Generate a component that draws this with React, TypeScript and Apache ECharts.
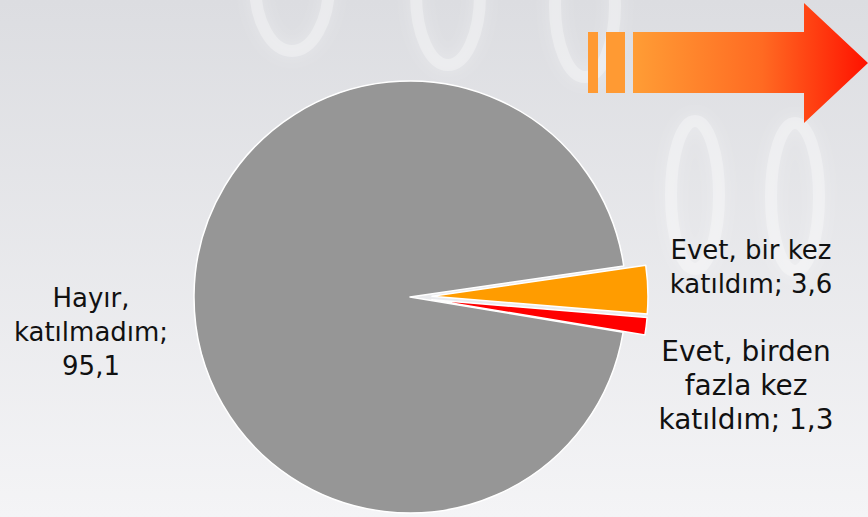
import React, { useEffect, useRef } from "react";
import * as echarts from "echarts";

const categories = ["Hayır,\nkatılmadım", "Evet, bir kez\nkatıldım", "Evet, birden\nfazla kez\nkatıldım"];
const values = [95.1, 3.6, 1.3];
const colors = ["#969696", "#ff9c00", "#ff0000"];
const exploded = [false, true, true];
const valueSeparators = [";\n", "; ", "; "];

const labelPositions = [
  { x: 91, y: 332, size: 26 },
  { x: 751, y: 267, size: 26 },
  { x: 746, y: 385, size: 28 },
];

export default function App() {
  const ref = useRef<HTMLDivElement>(null);
  useEffect(() => {
    document.body.style.margin = "0";
    if (!ref.current) return;
    const chart = echarts.init(ref.current, undefined, { renderer: "svg" });
    const ring = (cx: number, cy: number, rx: number, ry: number) => ({
      type: "ellipse",
      z: -5,
      shape: { cx, cy, rx, ry },
      style: {
        fill: "none",
        stroke: "rgba(255,255,255,0.3)",
        lineWidth: 12,
        shadowBlur: 16,
        shadowColor: "rgba(255,255,255,0.9)",
      },
    });
    const labels = categories.map((name, i) => ({
      type: "text",
      z: 20,
      style: {
        x: labelPositions[i].x,
        y: labelPositions[i].y,
        text: `${name}${valueSeparators[i]}${String(values[i]).replace(".", ",")}`,
        font: `${labelPositions[i].size}px "DejaVu Sans"`,
        lineHeight: 34,
        fill: "#111111",
        align: "center",
        verticalAlign: "middle",
      },
    }));
    chart.setOption({
      animation: false,
      graphic: [
        {
          type: "rect",
          z: -10,
          shape: { x: 0, y: 0, width: 868, height: 517 },
          style: {
            fill: new echarts.graphic.LinearGradient(0, 0, 0, 1, [
              { offset: 0, color: "#dcdde1" },
              { offset: 1, color: "#f4f4f6" },
            ]),
          },
        },
        ring(292, -15, 37, 66),
        ring(448, -5, 32, 70),
        ring(585, 5, 30, 72),
        ring(695, 195, 24, 74),
        ring(795, 197, 24, 74),
        {
          type: "rect",
          z: 10,
          shape: { x: 588, y: 32, width: 10, height: 61 },
          style: { fill: "#ff9a33" },
        },
        {
          type: "rect",
          z: 10,
          shape: { x: 606, y: 32, width: 19, height: 61 },
          style: { fill: "#ff9a33" },
        },
        {
          type: "polygon",
          z: 10,
          shape: {
            points: [
              [633, 32],
              [804, 32],
              [804, 3],
              [868, 63],
              [804, 123],
              [804, 93],
              [633, 93],
            ],
          },
          style: {
            fill: new echarts.graphic.LinearGradient(0, 0, 1, 0, [
              { offset: 0, color: "#ff9d35" },
              { offset: 0.55, color: "#ff6a22" },
              { offset: 1, color: "#ff1200" },
            ]),
          },
        },
        ...labels,
      ],
      series: [
        {
          type: "pie",
          center: [410, 297],
          radius: 216,
          startAngle: -9.4,
          clockwise: true,
          selectedMode: "multiple",
          selectedOffset: 22,
          emphasis: { disabled: true },
          itemStyle: { borderColor: "#ffffff", borderWidth: 1.5 },
          label: { show: false },
          labelLine: { show: false },
          data: categories.map((name, i) => ({
            name,
            value: values[i],
            selected: exploded[i],
            itemStyle: { color: colors[i] },
            select: { itemStyle: { color: colors[i], borderColor: "#ffffff", borderWidth: 1.5 } },
          })),
        },
      ],
    });
    return () => chart.dispose();
  }, []);
  return <div ref={ref} style={{ width: 868, height: 517 }} />;
}
